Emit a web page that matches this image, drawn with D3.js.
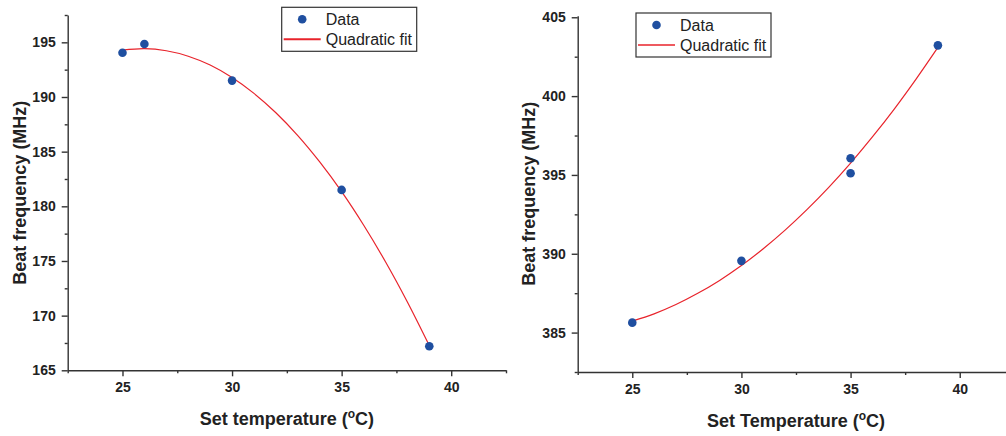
<!DOCTYPE html>
<html>
<head>
<meta charset="utf-8">
<script src="https://cdn.jsdelivr.net/npm/d3@7"></script>
<style>
  body { margin: 0; background: #fff; }
  svg { display: block; font-family: "Liberation Sans", Arial, sans-serif; }
</style>
</head>
<body>
<svg id="chart"></svg>
<script>
// set up constants
const width = 1006;
const height = 436;

// left panel data
const leftTemps = [25, 26, 30, 35, 39];
const leftFreqs = [194.05, 194.85, 191.5, 181.5, 167.2];
// quadratic fit curve
const leftFitTemps = [25, 26, 27, 28, 29, 30, 31, 32, 33, 34, 35, 36, 37, 38, 39];
const leftFitFreqs = [194.28, 194.42, 194.23, 193.73, 192.92, 191.78, 190.33, 188.56, 186.47, 184.06, 181.34, 178.29, 174.93, 171.25, 167.26];

// right panel data
const rightTemps = [25, 30, 35, 35, 39];
const rightFreqs = [385.63, 389.55, 396.06, 395.11, 403.22];
const rightFitTemps = [25, 26, 27, 28, 29, 30, 31, 32, 33, 34, 35, 36, 37, 38, 39];
const rightFitFreqs = [385.73, 386.19, 386.78, 387.49, 388.31, 389.25, 390.32, 391.50, 392.80, 394.21, 395.75, 397.41, 399.18, 401.08, 403.09];

// tick values
const xTicks = [25, 30, 35, 40];
const xMinor = [22.5, 27.5, 32.5, 37.5, 42.5];
const leftYTicks = [165, 170, 175, 180, 185, 190, 195];
const leftYMinor = [167.5, 172.5, 177.5, 182.5, 187.5, 192.5, 197.5];
const rightYTicks = [385, 390, 395, 400, 405];
const rightYMinor = [382.5, 387.5, 392.5, 397.5, 402.5];

const axisColor = '#333';
const textColor = '#222';
const dotColor = '#1f4fa0';
const fitColor = '#e8232b';

const svg = d3.select('#chart')
  .attr('width', width)
  .attr('height', height);

function drawPanel(p) {
  const x = d3.scaleLinear().domain([22.5, 42.5]).range(p.xRange);
  const y = d3.scaleLinear().domain(p.yDomain).range(p.yRange);
  const g = svg.append('g');

  // minor ticks
  g.append('g')
    .attr('transform', `translate(0, ${p.yRange[0]})`)
    .call(d3.axisBottom(x).tickValues(xMinor).tickSize(3).tickFormat(''))
    .call(a => a.select('.domain').remove());
  g.append('g')
    .attr('transform', `translate(${p.xRange[0]}, 0)`)
    .call(d3.axisLeft(y).tickValues(p.yMinor).tickSize(3).tickFormat(''))
    .call(a => a.select('.domain').remove());

  // major axes
  const xAxis = g.append('g')
    .attr('transform', `translate(0, ${p.yRange[0]})`)
    .call(d3.axisBottom(x).tickValues(xTicks).tickSize(6).tickPadding(6).tickSizeOuter(0));
  const yAxis = g.append('g')
    .attr('transform', `translate(${p.xRange[0]}, 0)`)
    .call(d3.axisLeft(y).tickValues(p.yTicks).tickSize(6).tickPadding(6).tickSizeOuter(0));

  g.selectAll('.tick line, .domain')
    .attr('stroke', axisColor)
    .attr('stroke-width', 1.4);
  g.selectAll('.tick text')
    .attr('fill', textColor)
    .attr('font-family', '"Liberation Sans", Arial, sans-serif')
    .attr('font-size', 14)
    .attr('font-weight', 'bold');

  // fit line
  const line = d3.line()
    .x(d => x(d[0]))
    .y(d => y(d[1]))
    .curve(d3.curveCatmullRom);
  g.append('path')
    .datum(p.fitX.map((t, i) => [t, p.fitY[i]]))
    .attr('d', line)
    .attr('fill', 'none')
    .attr('stroke', fitColor)
    .attr('stroke-width', 1.2);

  // data points
  g.selectAll('circle.pt')
    .data(p.dataX.map((t, i) => [t, p.dataY[i]]))
    .enter()
    .append('circle')
    .attr('class', 'pt')
    .attr('cx', d => x(d[0]))
    .attr('cy', d => y(d[1]))
    .attr('r', 4.3)
    .attr('fill', dotColor);

  // axis titles
  const xt = g.append('text')
    .attr('x', (p.xRange[0] + p.xRange[1]) / 2)
    .attr('y', p.xTitleY)
    .attr('text-anchor', 'middle')
    .attr('font-size', 18)
    .attr('font-weight', 'bold')
    .attr('fill', textColor);
  xt.append('tspan').text(p.xTitle + ' (');
  xt.append('tspan').attr('font-size', 12).attr('dy', -7).text('o');
  xt.append('tspan').attr('dy', 7).text('C)');

  g.append('text')
    .attr('transform', `translate(${p.yTitleX}, ${(p.yRange[0] + p.yRange[1]) / 2}) rotate(-90)`)
    .attr('text-anchor', 'middle')
    .attr('font-size', 18)
    .attr('font-weight', 'bold')
    .attr('fill', textColor)
    .text('Beat frequency (MHz)');

  // legend
  const L = p.legend;
  const lg = g.append('g').attr('transform', `translate(${L.x}, ${L.y})`);
  lg.append('rect')
    .attr('width', 135)
    .attr('height', 44)
    .attr('fill', '#fff')
    .attr('stroke', axisColor)
    .attr('stroke-width', 1.2);
  lg.append('circle')
    .attr('cx', 20.5)
    .attr('cy', 12)
    .attr('r', 4.3)
    .attr('fill', dotColor);
  lg.append('line')
    .attr('x1', 2).attr('x2', 39)
    .attr('y1', 32).attr('y2', 32)
    .attr('stroke', fitColor)
    .attr('stroke-width', L.lineWidth);
  lg.append('text')
    .attr('x', 44).attr('y', 12)
    .attr('dy', '0.35em')
    .attr('font-size', 16)
    .attr('fill', textColor)
    .text('Data');
  lg.append('text')
    .attr('x', 44).attr('y', 32)
    .attr('dy', '0.35em')
    .attr('font-size', 16)
    .attr('fill', textColor)
    .text('Quadratic fit');
}

drawPanel({
  xRange: [67.7, 506],
  yDomain: [165, 197.5],
  yRange: [370.3, 15],
  yTicks: leftYTicks,
  yMinor: leftYMinor,
  dataX: leftTemps,
  dataY: leftFreqs,
  fitX: leftFitTemps,
  fitY: leftFitFreqs,
  xTitle: 'Set temperature',
  xTitleY: 425,
  yTitleX: 25.5,
  legend: { x: 281.7, y: 7.3, lineWidth: 2 }
});

drawPanel({
  xRange: [577.7, 1014.3],
  yDomain: [382.5, 405.1],
  yRange: [372, 15.7],
  yTicks: rightYTicks,
  yMinor: rightYMinor,
  dataX: rightTemps,
  dataY: rightFreqs,
  fitX: rightFitTemps,
  fitY: rightFitFreqs,
  xTitle: 'Set Temperature',
  xTitleY: 426.5,
  yTitleX: 535,
  legend: { x: 636, y: 13, lineWidth: 1.3 }
});
</script>
</body>
</html>
